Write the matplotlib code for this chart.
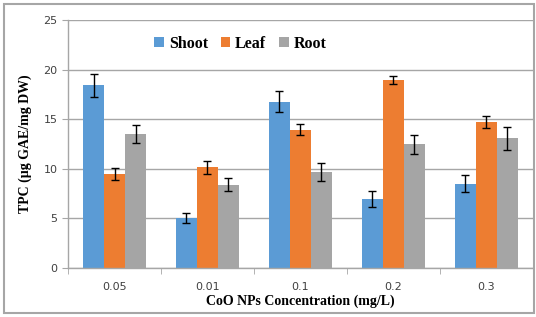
import numpy as np
import matplotlib
matplotlib.use("Agg")
import matplotlib.pyplot as plt
from matplotlib.patches import Rectangle

# ======================
# DATA
# ======================
categories = ["0.05", "0.01", "0.1", "0.2", "0.3"]
shoot = [18.4, 5.05, 16.75, 6.95, 8.5]
shoot_err = [1.15, 0.5, 1.05, 0.85, 0.85]
leaf = [9.5, 10.15, 13.95, 18.9, 14.75]
leaf_err = [0.6, 0.65, 0.55, 0.4, 0.6]
root = [13.5, 8.4, 9.65, 12.45, 13.05]
root_err = [0.95, 0.65, 0.9, 0.95, 1.15]

series = [("Shoot", shoot, shoot_err, "#5B9BD5"),
          ("Leaf", leaf, leaf_err, "#ED7D31"),
          ("Root", root, root_err, "#A5A5A5")]

serif = ["Liberation Serif", "DejaVu Serif"]

fig = plt.figure(figsize=(5.36, 3.17), dpi=100)
ax = fig.add_axes([0.127, 0.155, 0.867, 0.782])

x = np.arange(len(categories))
w = 0.226
for i, (name, vals, err, col) in enumerate(series):
    ax.bar(x + (i - 1) * w, vals, w, color=col, label=name, zorder=2,
           yerr=err, error_kw=dict(ecolor="black", elinewidth=1.0, capsize=3, capthick=1.0))

ax.set_xlim(-0.5, len(categories) - 0.5)
ax.set_ylim(0, 25)
ax.set_yticks(range(0, 26, 5))
ax.yaxis.grid(True, color="#A6A6A6", linewidth=1.0, zorder=0)
ax.set_axisbelow(True)

ax.set_xticks(x)
ax.set_xticklabels(categories)
ax.set_xticks(np.arange(-0.5, len(categories), 1.0), minor=True)
ax.tick_params(axis="x", which="major", length=0, pad=10, labelsize=8, labelcolor="#404040")
ax.tick_params(axis="x", which="minor", length=4, color="#A6A6A6", direction="out")
ax.tick_params(axis="y", length=4, color="#A6A6A6", labelsize=8, labelcolor="#404040")

for s in ["top", "right"]:
    ax.spines[s].set_visible(False)
for s in ["left", "bottom"]:
    ax.spines[s].set_color("#A6A6A6")
    ax.spines[s].set_linewidth(1.0)

ax.set_ylabel("TPC (µg GAE/mg DW)", family=serif, fontweight="bold", fontsize=10, labelpad=8)
ax.set_xlabel("CoO NPs Concentration (mg/L)", family=serif, fontweight="bold", fontsize=10, labelpad=2)

leg = ax.legend(loc="upper left", bbox_to_anchor=(0.155, 0.995), ncol=3, frameon=False,
                prop=dict(family=serif, weight="bold", size=11.5),
                handlelength=0.6, handleheight=0.6, handletextpad=0.3, columnspacing=0.8)

# outer frame
fig.patches.append(Rectangle((0.008, 0.012), 0.988, 0.976, transform=fig.transFigure,
                             fill=False, edgecolor="#A6A6A6", linewidth=1.5))

fig.savefig("out.png", dpi=100)
